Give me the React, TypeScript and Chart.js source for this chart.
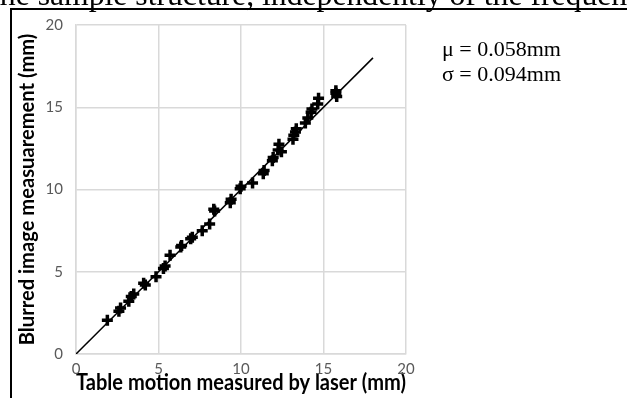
import React, { useEffect, useRef } from "react";
import { Chart, registerables } from "chart.js";

Chart.register(...registerables);

// ---- data ----
const axisMin = 0;
const axisMax = 20;
const axisStep = 5;

const laserX = [
  1.9, 2.6, 2.7, 3.2, 3.35, 3.5, 4.1, 4.2, 4.85, 5.3, 5.4, 5.7, 6.35, 6.4, 6.95,
  7.05, 7.65, 8.1, 8.4, 8.35, 9.35, 9.4, 9.95, 10.0, 10.7, 11.35, 11.4, 11.9, 11.95,
  12.25, 12.3, 12.45, 13.15, 13.2, 13.3, 13.35, 13.9, 14.05, 14.25, 14.3, 14.65,
  14.7, 15.75, 15.8, 15.75,
];
const imageY = [
  2.05, 2.6, 2.8, 3.2, 3.5, 3.65, 4.3, 4.2, 4.7, 5.2, 5.35, 6.0, 6.5, 6.6, 7.0,
  7.1, 7.5, 7.9, 8.7, 8.8, 9.2, 9.4, 10.05, 10.2, 10.4, 10.95, 11.15, 11.75, 11.95,
  12.4, 12.75, 12.3, 13.05, 13.3, 13.5, 13.7, 14.05, 14.35, 14.7, 14.9, 15.2,
  15.55, 15.85, 15.65, 16.0,
];
const fitX = [0, 18];
const fitY = [0, 18];

const xTitle = "Table motion measured by laser (mm)";
const yTitle = "Blurred image measuarement (mm)";
const statLines = ["\u03bc = 0.058mm", "\u03c3 = 0.094mm"];
const captionText = "the sample structure, independently of the frequency";

const W = 627;
const H = 398;

function fitSize(text: string, weight: string, family: string, target: number) {
  const ctx = document.createElement("canvas").getContext("2d");
  if (!ctx) return 20;
  ctx.font = `${weight} 100px ${family}`;
  const w = ctx.measureText(text).width;
  return (100 * target) / w;
}

export default function App() {
  const ref = useRef<HTMLCanvasElement | null>(null);

  useEffect(() => {
    const canvas = ref.current;
    if (!canvas) return;
    const fam = "Lato";
    const xs = fitSize(xTitle, "bold", fam, 362);
    const ys = fitSize(yTitle, "bold", fam, 312);
    const gridColor = "#d9d9d9";
    const chart = new Chart(canvas, {
      type: "scatter",
      data: {
        datasets: [
          {
            type: "line",
            data: fitX.map((x, i) => ({ x, y: fitY[i] })),
            borderColor: "#000",
            borderWidth: 1.5,
            pointRadius: 0,
            fill: false,
            order: 2,
          } as any,
          {
            type: "scatter",
            data: laserX.map((x, i) => ({ x, y: imageY[i] })),
            pointStyle: "cross",
            pointRadius: 5.5,
            pointBorderWidth: 3.5,
            borderColor: "#000",
            backgroundColor: "#000",
            order: 1,
          } as any,
        ],
      },
      options: {
        animation: false,
        responsive: false,
        maintainAspectRatio: false,
        devicePixelRatio: 1,
        layout: { padding: { top: 25, right: 221, left: 0, bottom: 0 } },
        plugins: { legend: { display: false }, tooltip: { enabled: false } },
        scales: {
          x: {
            type: "linear",
            min: axisMin,
            max: axisMax,
            ticks: {
              stepSize: axisStep,
              color: "#595959",
              font: { family: fam, size: 15 },
              padding: 6,
              maxRotation: 0,
            },
            grid: { color: gridColor, lineWidth: 1.5, drawTicks: false },
            border: { color: gridColor, width: 1.5 },
            title: {
              display: true,
              text: xTitle,
              color: "#000",
              font: { family: fam, weight: "bold", size: xs, lineHeight: 1 },
              padding: { top: 0, bottom: 4 },
            },
            afterFit: (s: any) => {
              s.height = 44;
            },
          },
          y: {
            type: "linear",
            min: axisMin,
            max: axisMax,
            ticks: {
              stepSize: axisStep,
              color: "#595959",
              font: { family: fam, size: 15 },
              padding: 13,
            },
            grid: { color: gridColor, lineWidth: 1.5, drawTicks: false },
            border: { color: gridColor, width: 1.5 },
            title: {
              display: true,
              text: yTitle,
              color: "#000",
              font: { family: fam, weight: "bold", size: ys, lineHeight: 1 },
              padding: { top: 17, bottom: 0 },
            },
            afterFit: (s: any) => {
              s.width = 76;
            },
          },
        },
      } as any,
    });
    return () => chart.destroy();
  }, []);

  return (
    <div
      style={{
        position: "fixed",
        left: 0,
        top: 0,
        width: W,
        height: H,
        background: "#fff",
        overflow: "hidden",
      }}
    >
      <canvas ref={ref} width={W} height={H} style={{ position: "absolute", left: 0, top: 0, width: W, height: H }} />
      <div
        style={{
          position: "absolute",
          left: 10,
          top: 8,
          width: 800,
          height: 600,
          borderLeft: "2px solid #000",
          borderTop: "2px solid #000",
          boxSizing: "border-box",
        }}
      />
      <div
        style={{
          position: "absolute",
          left: -9,
          top: -21.5,
          whiteSpace: "nowrap",
          fontFamily: "'Liberation Serif', 'Times New Roman', serif",
          fontSize: 31.7,
          lineHeight: 1,
          color: "#000",
        }}
      >
        {captionText}
      </div>
      <div
        style={{
          position: "absolute",
          left: 442,
          top: 35.6,
          whiteSpace: "nowrap",
          fontFamily: "'Liberation Serif', 'Times New Roman', serif",
          fontSize: 22,
          lineHeight: "25px",
          color: "#000",
        }}
      >
        {statLines.map((t) => (
          <div key={t}>{t}</div>
        ))}
      </div>
    </div>
  );
}
